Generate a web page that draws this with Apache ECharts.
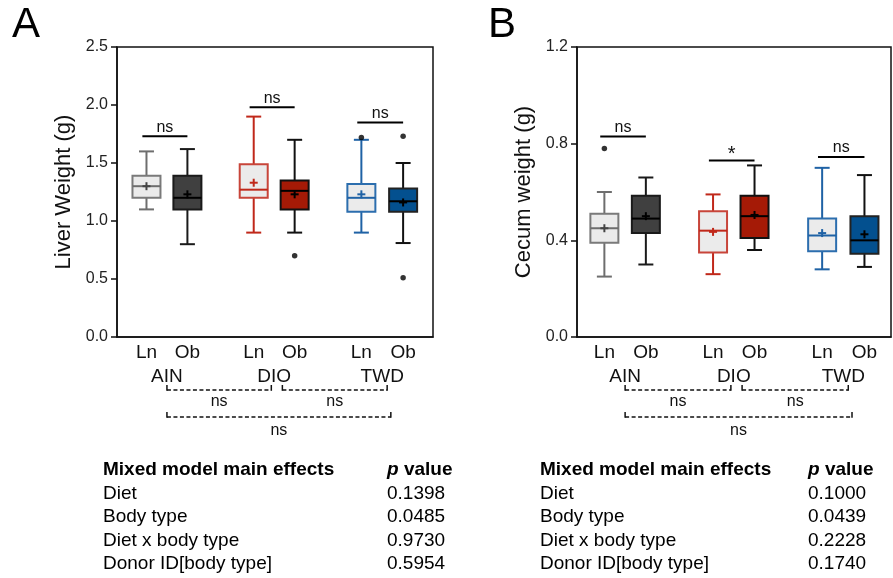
<!DOCTYPE html>
<html>
<head>
<meta charset="utf-8">
<script src="https://cdn.jsdelivr.net/npm/echarts@6/dist/echarts.min.js"></script>
<style>
html, body { margin: 0; padding: 0; background: #fff; }
#chart { width: 893px; height: 578px; }
</style>
</head>
<body>
<div id="chart"></div>
<script>
const groups = ['AIN', 'DIO', 'TWD'];
const bodyTypes = ['Ln', 'Ob', 'Ln', 'Ob', 'Ln', 'Ob'];

// liver weight (g): [min, q1, median, q3, max, mean] per box
const liverBoxes = [
  [1.10, 1.20, 1.30, 1.39, 1.60, 1.30],
  [0.80, 1.10, 1.20, 1.39, 1.62, 1.23],
  [0.90, 1.20, 1.27, 1.49, 1.90, 1.33],
  [0.90, 1.10, 1.26, 1.35, 1.70, 1.23],
  [0.90, 1.08, 1.20, 1.32, 1.70, 1.23],
  [0.81, 1.08, 1.17, 1.28, 1.50, 1.16],
];
// [box index, value]
const liverOutliers = [[3, 0.70], [4, 1.72], [5, 1.73], [5, 0.51]];
// [first box, second box, height, label]
const liverSig = [[0, 1, 1.73, 'ns'], [2, 3, 1.98, 'ns'], [4, 5, 1.85, 'ns']];
const liverTicks = [0, 0.5, 1.0, 1.5, 2.0, 2.5];

// cecum weight (g)
const cecumBoxes = [
  [0.25, 0.39, 0.45, 0.51, 0.60, 0.45],
  [0.30, 0.43, 0.49, 0.585, 0.66, 0.50],
  [0.26, 0.35, 0.44, 0.52, 0.59, 0.435],
  [0.36, 0.41, 0.50, 0.585, 0.71, 0.505],
  [0.28, 0.355, 0.42, 0.49, 0.70, 0.43],
  [0.29, 0.345, 0.40, 0.50, 0.67, 0.425],
];
const cecumOutliers = [[0, 0.78]];
const cecumSig = [[0, 1, 0.83, 'ns'], [2, 3, 0.73, '*'], [4, 5, 0.745, 'ns']];
const cecumTicks = [0, 0.4, 0.8, 1.2];

// diet comparisons under the axis: [from group, to group, label]
const dietTests = [[0, 1, 'ns'], [1, 2, 'ns'], [0, 2, 'ns']];

const effects = ['Diet', 'Body type', 'Diet x body type', 'Donor ID[body type]'];
const liverP = ['0.1398', '0.0485', '0.9730', '0.5954'];
const cecumP = ['0.1000', '0.0439', '0.2228', '0.1740'];

// layout
const FONT = '"Liberation Sans", Arial, Helvetica, sans-serif';
const xPos = [1, 2, 3.62, 4.62, 6.25, 7.27];
const groupPos = [1.5, 4.12, 6.76];
const bracketSpan = [[1.5, 4.05], [4.32, 6.88], [1.5, 6.97]];
const boxStyle = [
  { fill: '#ebebeb', stroke: '#6e6e6e', box: '#7a7a7a', mid: '#6e6e6e', mean: '#444' },
  { fill: '#404040', stroke: '#1a1a1a', box: '#1a1a1a', mid: '#000', mean: '#000' },
  { fill: '#ebebeb', stroke: '#c0281a', box: '#c8453a', mid: '#c0281a', mean: '#c0281a' },
  { fill: '#a51a06', stroke: '#111', box: '#111', mid: '#000', mean: '#000' },
  { fill: '#ebebeb', stroke: '#1f62a5', box: '#2c6eae', mid: '#1f62a5', mean: '#1f62a5' },
  { fill: '#03508f', stroke: '#111', box: '#222', mid: '#000', mean: '#000' },
];

function boxRender(params, api) {
  const st = boxStyle[params.dataIndex];
  const xv = api.value(0);
  const x = api.coord([xv, 0])[0];
  const y = (k) => api.coord([xv, api.value(k)])[1];
  const lo = y(1), q1 = y(2), med = y(3), q3 = y(4), hi = y(5), mean = y(6);
  const bw = 14, cw = 7.5, m = 4;
  const line = (x1, y1, x2, y2, c) => ({
    type: 'line', shape: { x1, y1, x2, y2 }, style: { stroke: c, lineWidth: 2 },
  });
  return {
    type: 'group',
    children: [
      line(x, hi, x, q3, st.stroke),
      line(x - cw, hi, x + cw, hi, st.stroke),
      line(x, q1, x, lo, st.stroke),
      line(x - cw, lo, x + cw, lo, st.stroke),
      {
        type: 'rect',
        shape: { x: x - bw, y: q3, width: bw * 2, height: q1 - q3 },
        style: { fill: st.fill, stroke: st.box, lineWidth: 2 },
      },
      line(x - bw, med, x + bw, med, st.mid),
      line(x - m, mean, x + m, mean, st.mean),
      line(x, mean - m, x, mean + m, st.mean),
    ],
  };
}

function sigRender(params, api) {
  const y = api.value(2);
  const p1 = api.coord([api.value(0), y]);
  const p2 = api.coord([api.value(1), y]);
  const label = (params.seriesName === 'sigA' ? liverSig : cecumSig)[params.dataIndex][3];
  const star = label === '*';
  return {
    type: 'group',
    children: [
      { type: 'line', shape: { x1: p1[0], y1: p1[1], x2: p2[0], y2: p1[1] }, style: { stroke: '#000', lineWidth: 2 } },
      {
        type: 'text',
        style: {
          text: label, x: (p1[0] + p2[0]) / 2, y: star ? p1[1] + 4 : p1[1] - 1,
          align: 'center', verticalAlign: 'bottom',
          font: (star ? '20px ' : '16px ') + FONT, fill: '#111',
        },
      },
    ],
  };
}

function bracketRender(params, api) {
  const row = params.dataIndex === 2 ? 1 : 0;
  const base = api.coord([api.value(0), 0]);
  const x1 = base[0];
  const x2 = api.coord([api.value(1), 0])[0];
  const y = base[1] + 53 + row * 27;
  const st = { stroke: '#111', lineWidth: 1.5 };
  return {
    type: 'group',
    children: [
      { type: 'line', shape: { x1, y1: y, x2, y2: y }, style: { ...st, lineDash: [4, 2.5] } },
      { type: 'line', shape: { x1, y1: y - 5, x2: x1, y2: y + 0.75 }, style: st },
      { type: 'line', shape: { x1: x2, y1: y - 5, x2, y2: y + 0.75 }, style: st },
      {
        type: 'text',
        style: {
          text: dietTests[params.dataIndex][2], x: (x1 + x2) / 2, y: y + 12 + row * 2,
          align: 'center', verticalAlign: 'middle', font: '16px ' + FONT, fill: '#111',
        },
      },
    ],
  };
}

function nearestLabel(list, labels) {
  return (v) => {
    let best = 0;
    list.forEach((p, i) => { if (Math.abs(p - v) < Math.abs(list[best] - v)) best = i; });
    return labels[best];
  };
}

function xAxes(gridIndex, min, max) {
  return [
    {
      gridIndex, type: 'value', min, max, position: 'bottom',
      axisLine: { lineStyle: { color: '#111', width: 1.5 } },
      axisTick: { show: false },
      splitLine: { show: false },
      axisLabel: {
        customValues: xPos, formatter: nearestLabel(xPos, bodyTypes),
        fontSize: 19, fontFamily: FONT, color: '#111', margin: 6,
      },
    },
    {
      gridIndex, type: 'value', min, max, position: 'bottom', offset: 24,
      axisLine: { show: false }, axisTick: { show: false }, splitLine: { show: false },
      axisLabel: {
        customValues: groupPos, formatter: nearestLabel(groupPos, groups),
        fontSize: 19, fontFamily: FONT, color: '#111', margin: 6,
      },
    },
  ];
}

function yAxis(gridIndex, ticks, name, nameGap) {
  return {
    gridIndex, type: 'value', min: ticks[0], max: ticks[ticks.length - 1],
    interval: ticks[1] - ticks[0],
    name, nameLocation: 'middle', nameGap,
    nameTextStyle: { fontSize: 22, fontFamily: FONT, color: '#111' },
    axisLine: { show: true, lineStyle: { color: '#111', width: 1.5 } },
    axisTick: { show: true, length: 6, lineStyle: { color: '#111', width: 1.5 } },
    splitLine: { show: false },
    axisLabel: {
      formatter: (v) => v.toFixed(1), fontSize: 16, fontFamily: FONT, color: '#222', margin: 9,
    },
  };
}

function boxData(boxes) {
  return boxes.map((b, i) => [xPos[i], ...b]);
}

function tableText(left, pCol, pvals) {
  const els = [
    { type: 'text', left, top: 460, style: { text: 'Mixed model main effects', font: 'bold 19px ' + FONT, fill: '#000' } },
    {
      type: 'text', left: pCol, top: 460,
      style: {
        text: '{p|p} value', font: 'bold 19px ' + FONT, fill: '#000',
        rich: { p: { font: 'italic bold 19px ' + FONT, fill: '#000' } },
      },
    },
  ];
  effects.forEach((e, i) => {
    const top = 484 + i * 23.5;
    els.push({ type: 'text', left, top, style: { text: e, font: '19px ' + FONT, fill: '#000' } });
    els.push({ type: 'text', left: pCol, top, style: { text: pvals[i], font: '19px ' + FONT, fill: '#000' } });
  });
  return els;
}

const option = {
  backgroundColor: '#fff',
  animation: false,
  grid: [
    { left: 117, top: 47, width: 316, height: 290, show: true, borderColor: '#111', borderWidth: 1.5 },
    { left: 577, top: 47, width: 314, height: 290, show: true, borderColor: '#111', borderWidth: 1.5 },
  ],
  xAxis: [...xAxes(0, 0.28, 8.0), ...xAxes(1, 0.34, 7.91)],
  yAxis: [
    yAxis(0, liverTicks, 'Liver Weight (g)', 42),
    yAxis(1, cecumTicks, 'Cecum weight (g)', 42),
  ],
  graphic: [
    { type: 'text', left: 12, top: 4, style: { text: 'A', font: '42px ' + FONT, fill: '#000' } },
    { type: 'text', left: 488, top: 4, style: { text: 'B', font: '42px ' + FONT, fill: '#000' } },
    ...tableText(103, 387, liverP),
    ...tableText(540, 808, cecumP),
  ],
  series: [
    { type: 'custom', name: 'boxA', xAxisIndex: 0, yAxisIndex: 0, renderItem: boxRender, data: boxData(liverBoxes), z: 2 },
    { type: 'custom', name: 'boxB', xAxisIndex: 2, yAxisIndex: 1, renderItem: boxRender, data: boxData(cecumBoxes), z: 2 },
    {
      type: 'scatter', xAxisIndex: 0, yAxisIndex: 0, symbolSize: 5.5, itemStyle: { color: '#000' }, z: 3,
      data: liverOutliers.map(([i, v]) => [xPos[i], v]),
    },
    {
      type: 'scatter', xAxisIndex: 2, yAxisIndex: 1, symbolSize: 5.5, itemStyle: { color: '#000' }, z: 3,
      data: cecumOutliers.map(([i, v]) => [xPos[i], v]),
    },
    {
      type: 'custom', name: 'sigA', xAxisIndex: 0, yAxisIndex: 0, renderItem: sigRender,
      data: liverSig.map(([a, b, h]) => [xPos[a] - 0.1, xPos[b], h]),
    },
    {
      type: 'custom', name: 'sigB', xAxisIndex: 2, yAxisIndex: 1, renderItem: sigRender,
      data: cecumSig.map(([a, b, h]) => [xPos[a] - 0.1, xPos[b], h]),
    },
    {
      type: 'custom', xAxisIndex: 0, yAxisIndex: 0, renderItem: bracketRender, clip: false,
      data: bracketSpan,
    },
    {
      type: 'custom', xAxisIndex: 2, yAxisIndex: 1, renderItem: bracketRender, clip: false,
      data: bracketSpan,
    },
  ],
};

const chart = echarts.init(document.getElementById('chart'), null, { renderer: 'canvas' });
chart.setOption(option);
</script>
</body>
</html>
